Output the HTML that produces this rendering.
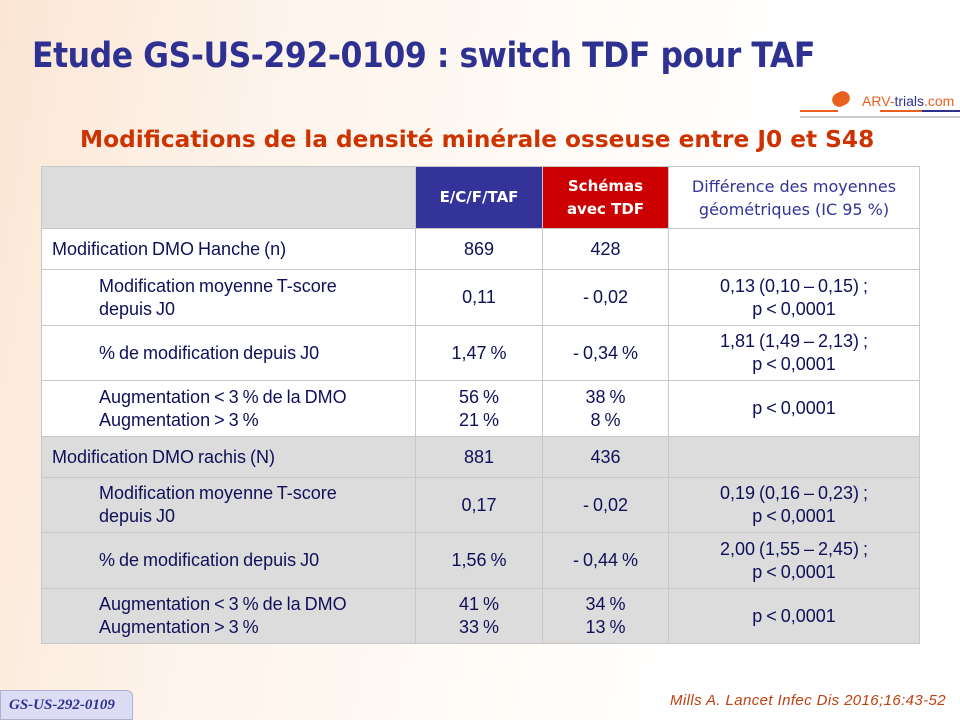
<!DOCTYPE html>
<html><head><meta charset="utf-8">
<style>
*{margin:0;padding:0;box-sizing:border-box}
body{width:960px;height:720px;overflow:hidden;position:relative;font-family:"Liberation Sans",sans-serif;
background:linear-gradient(100deg,#fbe6d4 0%,#fdf3ea 25%,#fffaf5 50%,#ffffff 75%);}
.abs{position:absolute}
#title{left:32px;top:36px;font-size:35px;font-weight:bold;color:#2e3192;font-family:"DejaVu Sans","Liberation Sans",sans-serif;letter-spacing:-0.5px;transform:scaleX(0.9);transform-origin:left;white-space:nowrap}
#sub{left:80px;top:127px;font-size:23px;font-weight:bold;color:#cc3300;font-family:"DejaVu Sans",sans-serif;transform:scaleX(1.01);transform-origin:left;white-space:nowrap}
table{position:absolute;left:41px;top:166px;width:878px;border-collapse:collapse;table-layout:fixed;color:#10105a;font-size:18px;word-spacing:-1px}
td{border:1.5px solid #c8c8c8;text-align:center;vertical-align:middle;line-height:23px;white-space:nowrap}
td.l{text-align:left;padding-left:10px}
td.i{text-align:left;padding-left:57px}
tr.g td{background:#dcdcdc}
tr.w td{background:#fff}
.hd{font-family:"DejaVu Sans",sans-serif;font-weight:bold;font-size:15px;color:#fff;word-spacing:0}
</style></head><body>
<div id="title" class="abs">Etude GS-US-292-0109 : switch TDF pour TAF</div>
<div class="abs" style="left:800px;top:90px;width:160px;height:30px">
 <div class="abs" style="left:32px;top:2px;width:18px;height:14px;border-radius:7px;background:#e8601c;transform:rotate(-25deg)"></div>
 <div class="abs" style="left:62px;top:3px;font-size:14px;color:#e8601c">ARV-<span style="color:#2e3192">trials</span>.com</div>
 <div class="abs" style="left:0;top:20px;width:38px;height:2px;background:#e8601c"></div>
 <div class="abs" style="left:80px;top:20px;width:42px;height:2px;background:#e8601c"></div>
 <div class="abs" style="left:122px;top:20px;width:38px;height:2px;background:#2e3192"></div>
 <div class="abs" style="left:0;top:26px;width:160px;height:2px;background:#ccc"></div>
</div>
<div id="sub" class="abs">Modifications de la densité minérale osseuse entre J0 et S48</div>
<table>
<colgroup><col style="width:374px"><col style="width:127px"><col style="width:126px"><col style="width:251px"></colgroup>
<tr style="height:62px"><td style="background:#dcdcdc"></td><td class="hd" style="background:#333399">E/C/F/TAF</td><td class="hd" style="background:#cc0000">Schémas<br>avec TDF</td><td class="hd" style="background:#fff;color:#333399;font-weight:normal;font-size:16px">Différence des moyennes<br>géométriques (IC 95 %)</td></tr>
<tr class="w" style="height:41px"><td class="l">Modification DMO Hanche (n)</td><td>869</td><td>428</td><td></td></tr>
<tr class="w" style="height:56px"><td class="i">Modification moyenne T-score<br>depuis J0</td><td>0,11</td><td>- 0,02</td><td>0,13 (0,10 – 0,15) ;<br>p &lt; 0,0001</td></tr>
<tr class="w" style="height:55px"><td class="i">% de modification depuis J0</td><td>1,47 %</td><td>- 0,34 %</td><td>1,81 (1,49 – 2,13) ;<br>p &lt; 0,0001</td></tr>
<tr class="w" style="height:56px"><td class="i">Augmentation &lt; 3 % de la DMO<br>Augmentation &gt; 3 %</td><td>56 %<br>21 %</td><td>38 %<br>8 %</td><td>p &lt; 0,0001</td></tr>
<tr class="g" style="height:41px"><td class="l">Modification DMO rachis (N)</td><td>881</td><td>436</td><td></td></tr>
<tr class="g" style="height:55px"><td class="i">Modification moyenne T-score<br>depuis J0</td><td>0,17</td><td>- 0,02</td><td>0,19 (0,16 – 0,23) ;<br>p &lt; 0,0001</td></tr>
<tr class="g" style="height:56px"><td class="i">% de modification depuis J0</td><td>1,56 %</td><td>- 0,44 %</td><td>2,00 (1,55 – 2,45) ;<br>p &lt; 0,0001</td></tr>
<tr class="g" style="height:55px"><td class="i">Augmentation &lt; 3 % de la DMO<br>Augmentation &gt; 3 %</td><td>41 %<br>33 %</td><td>34 %<br>13 %</td><td>p &lt; 0,0001</td></tr>
</table>
<div class="abs" style="left:0;top:690px;width:133px;height:30px;background:#dcdcf5;border:1px solid #b0b0d0;border-radius:0 6px 0 0;color:#2e3192;font-family:'Liberation Serif',serif;font-style:italic;font-weight:bold;font-size:15px;padding:6px 0 0 8px">GS-US-292-0109</div>
<div class="abs" style="left:670px;top:692px;font-size:15px;font-style:italic;color:#c04010;letter-spacing:0.4px">Mills A. Lancet Infec Dis 2016;16:43-52</div>
</body></html>
